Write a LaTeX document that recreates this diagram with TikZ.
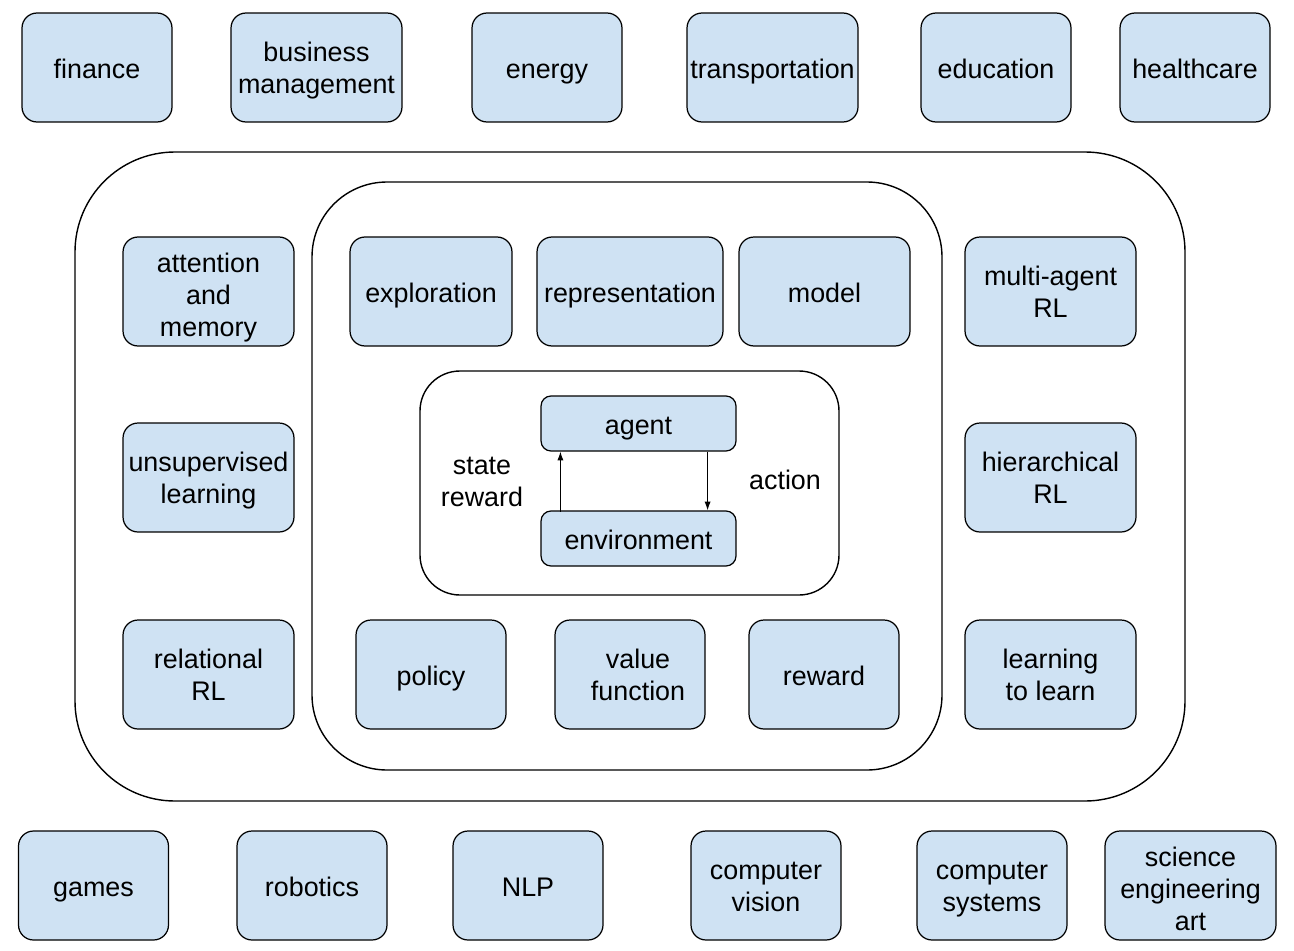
\documentclass[tikz,border=0pt]{standalone}
\usepackage{fontspec}
\setmainfont{Liberation Sans}
\usetikzlibrary{arrows.meta}

\definecolor{tilefill}{HTML}{CFE2F3}
\newcommand{\lbl}{\fontsize{15.3}{18}\selectfont}
\newcommand{\tstrut}{\rule[-0.212em]{0pt}{1.262em}}
\newcommand{\topline}[1][0.97em]{\rule{0pt}{#1}}

\tikzset{
  tile/.style={draw, line width=0.7pt, rounded corners=0.3cm, fill=tilefill,
    minimum height=2.18cm, minimum width=3cm, align=center, inner sep=0pt, font=\lbl,
    execute at begin node=\tstrut, execute at end node=\tstrut},
  wide/.style={minimum width=3.42cm},
  flat/.style={minimum height=1.1cm, rounded corners=0.2cm},
  frame/.style={draw, line width=0.8pt},
  loopline/.style={-{Latex[length=5pt,width=3.5pt]}, line width=0.6pt}
}

\begin{document}
\begin{tikzpicture}[x=0.02cm, y=-0.02cm]
\useasboundingbox (0,0) rectangle (1294,950);

% containers
\draw[frame, rounded corners=2cm] (75,152) rectangle (1185,801);
\draw[frame, rounded corners=1.5cm] (312,182) rectangle (942,770);
\draw[frame, rounded corners=0.8cm] (420,371) rectangle (839,595);

% top row
\node[tile] (finance) at (97,67.5) {finance};
\node[tile, wide] (business) at (316.5,67.5) {\topline business\\management};
\node[tile] (energy) at (547,67.5) {energy};
\node[tile, wide] (transport) at (772.5,67.5) {transportation};
\node[tile] (education) at (996,67.5) {education};
\node[tile] (health) at (1195,67.5) {healthcare};

% left column
\node[tile, wide] (attention) at (208.5,291.5) {\topline[1.18em]attention\\and\\memory};
\node[tile, wide] (unsup) at (208.5,477.5) {\topline unsupervised\\learning};
\node[tile, wide] (relational) at (208.5,674.5) {\topline relational\\RL};

% right column
\node[tile, wide] (multiagent) at (1050.5,291.5) {\topline multi-agent\\RL};
\node[tile, wide] (hier) at (1050.5,477.5) {\topline hierarchical\\RL};
\node[tile, wide] (l2l) at (1050.5,674.5) {\topline learning\\to learn};

% inner ring
\node[tile, minimum width=3.24cm] (explore) at (431,291.5) {exploration};
\node[tile, minimum width=3.72cm] (repr) at (630,291.5) {representation};
\node[tile, wide] (model) at (824.5,291.5) {model};
\node[tile] (policy) at (431,674.5) {policy};
\node[tile] (value) at (630,674.5) {\topline\hspace{0.6em}value\\\hspace{0.6em}function};
\node[tile] (reward) at (824,674.5) {reward};

% agent loop
\node[tile, flat, minimum width=3.9cm] (agent) at (638.5,423.5) {agent};
\node[tile, flat, minimum width=3.9cm] (env) at (638.5,538.5) {environment};
\draw[loopline] (env.south west) ++(20,-55) coordinate (up0) -- (up0 |- agent.south);
\draw[loopline] (agent.south east) ++(-29,0) coordinate (dn0) -- (dn0 |- env.north);
\node[align=center, font=\lbl] (obs) at (482,482) {state\\reward};
\node[font=\lbl] (act) at (785,480) {action};

% bottom row
\node[tile] (games) at (93.5,885.5) {games};
\node[tile] (robotics) at (312,885.5) {robotics};
\node[tile] (nlp) at (528,885.5) {NLP};
\node[tile] (vision) at (766,885.5) {\topline computer\\vision};
\node[tile] (systems) at (992,885.5) {\topline computer\\systems};
\node[tile, wide] (science) at (1190.5,885.5) {\topline[1.18em]science\\engineering\\art};
\end{tikzpicture}
\end{document}
